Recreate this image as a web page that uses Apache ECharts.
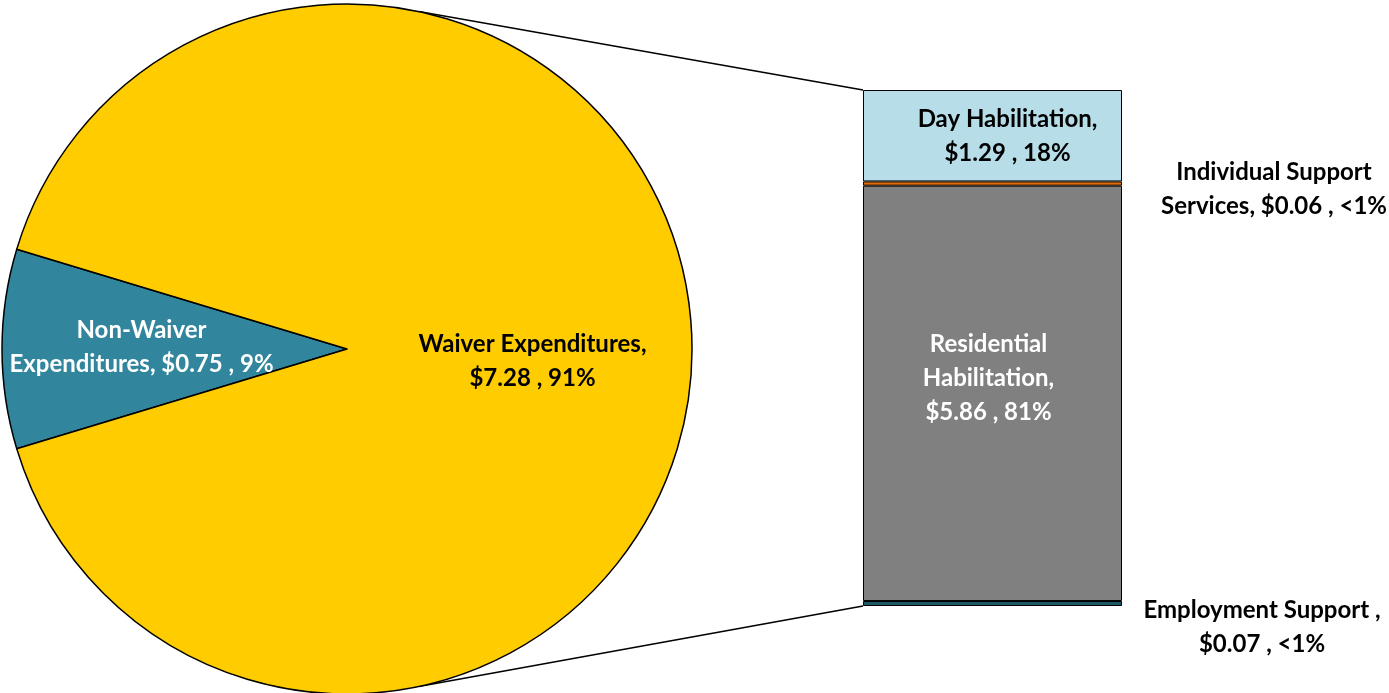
<!DOCTYPE html>
<html>
<head>
<meta charset="utf-8">
<script src="https://cdn.jsdelivr.net/npm/echarts@6/dist/echarts.min.js"></script>
<style>
  html, body { margin: 0; padding: 0; background: #fff; }
  #main { width: 1389px; height: 693px; }
</style>
</head>
<body>
<div id="main"></div>
<script>
  // pie: total spending split
  var pieNames = ['Non-Waiver\nExpenditures, $0.75 , 9%', 'Waiver Expenditures,\n$7.28 , 91%'];
  var pieValues = [0.75, 7.28];
  var pieColors = ['#31859c', '#ffcc00'];

  // bar: breakdown of waiver expenditures, bottom to top
  var barNames = ['Employment Support ,\n$0.07 , <1%', 'Residential\nHabilitation,\n$5.86 , 81%',
    'Individual Support\nServices, $0.06 , <1%', 'Day Habilitation,\n$1.29 , 18%'];
  var barValues = [0.07, 5.86, 0.06, 1.29];
  var barColors = ['#215968', '#808080', '#e46c0a', '#b7dde8'];

  var chart = echarts.init(document.getElementById('main'));
  var pieCenter = [347, 349];
  var pieRadius = 345;
  var gridLeft = 863, gridRight = 267, gridTop = 90, gridBottom = 87;

  var pieTotal = pieValues.reduce(function (a, b) { return a + b; }, 0);
  var barTotal = barValues.reduce(function (a, b) { return a + b; }, 0);
  var nonWaiverAngle = pieValues[0] / pieTotal * 360;

  var labelFont = {
    fontFamily: 'Lato, "Liberation Sans", sans-serif',
    fontWeight: 'bold',
    fontSize: 24,
    lineHeight: 34
  };

  // label placement per stacked segment
  var barLabels = [
    {position: [399, 26], align: 'center', verticalAlign: 'middle', color: '#000'},
    {position: 'inside', offset: [-4, -15], color: '#fff'},
    {position: [411, 8], align: 'center', verticalAlign: 'middle', color: '#000'},
    {position: 'inside', offset: [15, 1], color: '#000'}
  ];

  var series = [{
    type: 'pie',
    center: pieCenter,
    radius: pieRadius,
    startAngle: 180 + nonWaiverAngle / 2,
    clockwise: true,
    silent: true,
    label: Object.assign({show: true, position: 'inner', formatter: '{b}'}, labelFont),
    labelLine: {show: false},
    labelLayout: function (params) {
      return params.dataIndex === 0 ? {dx: -15, dy: -1} : {dx: 5, dy: 6};
    },
    itemStyle: {borderColor: '#000', borderWidth: 1.5},
    data: pieNames.map(function (n, i) {
      return {
        name: n, value: pieValues[i],
        itemStyle: {color: pieColors[i]},
        label: {color: i === 0 ? '#fff' : '#000'}
      };
    })
  }];

  barNames.forEach(function (n, i) {
    series.push({
      type: 'bar',
      name: n,
      stack: 'waiver',
      barWidth: '100%',
      silent: true,
      itemStyle: {color: barColors[i], borderColor: '#000', borderWidth: 1},
      label: Object.assign({show: true, formatter: n}, labelFont, barLabels[i]),
      data: [barValues[i]]
    });
  });

  var option = {
    animation: false,
    grid: {left: gridLeft, right: gridRight, top: gridTop, bottom: gridBottom},
    xAxis: {type: 'category', data: ['Waiver'], show: false},
    yAxis: {type: 'value', min: 0, max: barTotal, show: false},
    series: series
  };
  chart.setOption(option);

  // connector lines from the pie edge to the bar corners
  var a = 78 * Math.PI / 180;
  var topPt = [pieCenter[0] + pieRadius * Math.cos(a), pieCenter[1] - pieRadius * Math.sin(a)];
  var botPt = [pieCenter[0] + pieRadius * Math.cos(a), pieCenter[1] + pieRadius * Math.sin(a)];
  var barTopY = chart.convertToPixel({yAxisIndex: 0}, barTotal);
  var barBotY = chart.convertToPixel({yAxisIndex: 0}, 0);
  chart.setOption({
    graphic: [
      {type: 'line', shape: {x1: topPt[0], y1: topPt[1], x2: gridLeft, y2: barTopY}, style: {stroke: '#000', lineWidth: 1.5}},
      {type: 'line', shape: {x1: botPt[0], y1: botPt[1], x2: gridLeft, y2: barBotY}, style: {stroke: '#000', lineWidth: 1.5}}
    ]
  });
</script>
</body>
</html>
